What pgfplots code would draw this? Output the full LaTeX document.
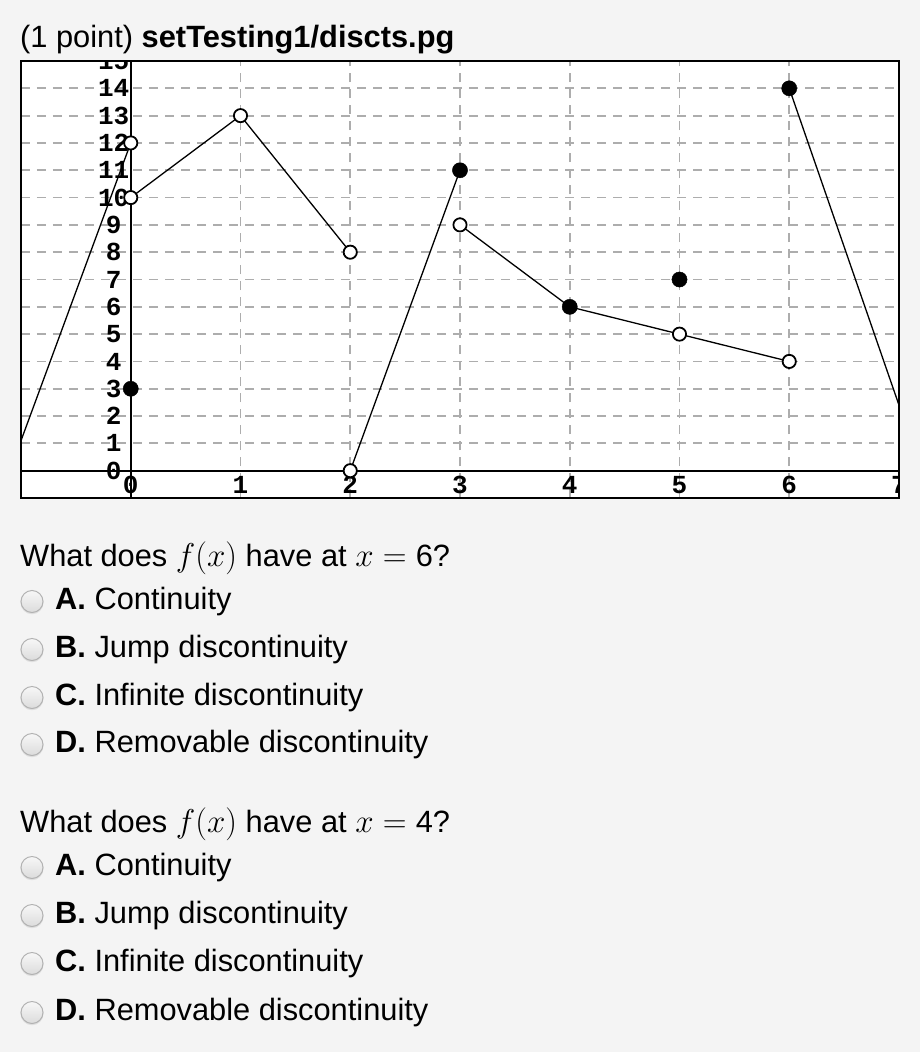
\documentclass[border=0pt]{standalone}
\usepackage{fix-cm}
\usepackage{fontspec}
\setmainfont{Liberation Sans}
\newfontfamily\tickfont{Liberation Mono}
\usepackage{pgfplots}
\pgfplotsset{compat=1.18}
\definecolor{bg}{HTML}{F4F4F4}
\definecolor{gridc}{HTML}{ADADAD}
\newcommand{\mth}[1]{{\fontsize{33}{36}\selectfont$#1$}}

\begin{document}
\begin{tikzpicture}[x=1pt,y=1pt]
\fill[bg] (0,0) rectangle (920,-1052);
\node[anchor=base west, inner sep=0, font=\fontsize{30.8}{36}\selectfont] at (20,-47) {(1 point) \textbf{setTesting1/discts.pg}};
\begin{axis}[at={(21pt,-498pt)}, anchor=south west, scale only axis,
  width=878pt, height=437pt,
  xmin=-1, xmax=7, ymin=-1, ymax=15,
  axis background/.style={fill=white},
  axis line style={line width=2pt},
  xtick={0,...,6}, ytick={1,...,14},
  xticklabels={}, yticklabels={},
  major tick length=0pt,
  grid=major,
  grid style={gridc, line width=1.8pt, dash pattern=on 9pt off 7pt},
  clip=true]
\begin{scope}
\clip (rel axis cs:0,0) rectangle (rel axis cs:1,1);
\pgfplotsinvokeforeach{0,...,15}{\node[font=\tickfont\bfseries\fontsize{26}{26}\selectfont, inner sep=0] at (axis cs:-0.155,#1) {#1};}
\pgfplotsinvokeforeach{0,...,7}{\node[font=\tickfont\bfseries\fontsize{26}{26}\selectfont, inner sep=0] at (axis cs:#1,-0.53) {#1};}
\end{scope}
\addplot[black, line width=1.8pt] coordinates {(-1,0) (7,0)};
\addplot[black, line width=1.8pt] coordinates {(0,-1) (0,15)};
\addplot[black, line width=1.3pt] coordinates {(-1,1.1) (0,12)};
\addplot[black, line width=1.3pt] coordinates {(0,10) (1,13) (2,8)};
\addplot[black, line width=1.3pt] coordinates {(2,0) (3,11)};
\addplot[black, line width=1.3pt] coordinates {(3,9) (4,6) (5,5) (6,4)};
\addplot[black, line width=1.3pt] coordinates {(6,14) (7,2.4)};
\addplot[only marks, mark=*, mark size=6.6pt, mark options={fill=white, draw=black, line width=1.8pt}] coordinates {(0,12) (0,10) (1,13) (2,8) (2,0) (3,9) (5,5) (6,4)};
\addplot[only marks, mark=*, mark size=7.6pt, mark options={fill=black, draw=black}] coordinates {(0,3) (3,11) (4,6) (5,7) (6,14)};
\end{axis}
\begin{scope}[font=\fontsize{30.8}{36}\selectfont]
\node[anchor=base west, inner sep=0] at (20,-566) {What does \mth{f(x)} have at \mth{x = {}}6?};
\foreach \y/\l/\t in {609/A/Continuity, 657/B/Jump discontinuity, 705/C/Infinite discontinuity, 752/D/Removable discontinuity, 875/A/Continuity, 923/B/Jump discontinuity, 971/C/Infinite discontinuity, 1020/D/Removable discontinuity} {
  \fill[gray!25] (32,6.3-\y) circle (11.5);
  \path[draw=gray!60, line width=1pt, top color=gray!6, bottom color=gray!28] (32,7.5-\y) circle (11);
  \node[anchor=base west, inner sep=0] at (55,-\y) {\textbf{\l.} \t};
}
\node[anchor=base west, inner sep=0] at (20,-832) {What does \mth{f(x)} have at \mth{x = {}}4?};
\end{scope}
\end{tikzpicture}
\end{document}
